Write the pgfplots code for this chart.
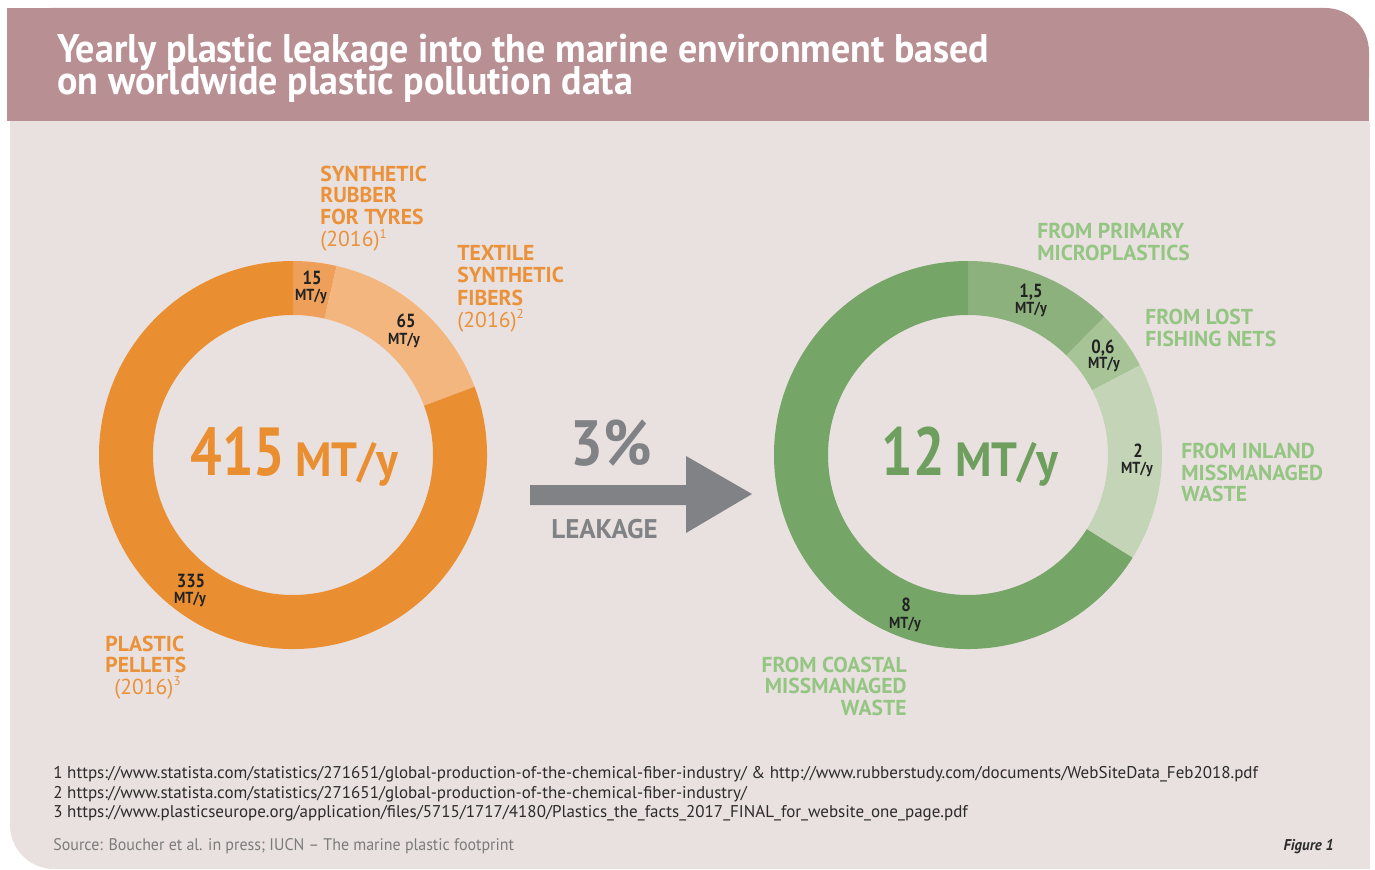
\documentclass[border=0pt]{standalone}
\usepackage{pgfplots}
\pgfplotsset{compat=1.18}
\usepackage{pgfplotstable}
\usepackage{fontspec}
\setmainfont{PT Sans}
\newfontfamily\titlefont{PT Sans}[FakeStretch=0.95]
\newfontfamily\labfont{PT Sans}
\newfontfamily\numfont{PT Sans}[FakeStretch=0.88]
\newfontfamily\bigfont{PT Sans}[FakeStretch=0.82]
\newfontfamily\pctfont{PT Sans}[FakeStretch=0.9]
\newfontfamily\unitfont{PT Sans}[FakeStretch=0.95]
\newfontfamily\notefont{PT Sans}
\newfontfamily\srcfont{PT Sans}[FakeStretch=0.95]
\newcommand\fnsup[1]{\raisebox{0.38em}{\fontsize{6.5}{6.5}\selectfont #1}}

\definecolor{band}{HTML}{B88F93}
\definecolor{body}{HTML}{E9E1E0}
\definecolor{orMain}{HTML}{E98F32}
\definecolor{orRub}{HTML}{EEA05A}
\definecolor{orTex}{HTML}{F4B67F}
\definecolor{orText}{HTML}{EA9139}
\definecolor{grMain}{HTML}{76A568}
\definecolor{grPrim}{HTML}{8DB17D}
\definecolor{grNet}{HTML}{A7C497}
\definecolor{grIn}{HTML}{C4D5B7}
\definecolor{grText}{HTML}{95C583}
\definecolor{grBig}{HTML}{6E9F5E}
\definecolor{arrowgray}{HTML}{808285}
\definecolor{notetext}{HTML}{2B2B2B}
\definecolor{srctext}{HTML}{7B7B7B}
\definecolor{numtext}{HTML}{222222}

\tikzset{
  lab/.style={font=\labfont\bfseries\fontsize{10.8}{10.8}\selectfont},
  labr/.style={font=\labfont\fontsize{10.8}{10.8}\selectfont},
  num/.style={text=numtext,font=\numfont\bfseries\fontsize{9.5}{9.5}\selectfont},
  unit/.style={text=numtext,font=\numfont\bfseries\fontsize{8}{8}\selectfont}}

% Annual plastic volumes (MT/y), clockwise from the top
\pgfplotstableread{
segment value
rubber 15
textile 65
pellets 335
}\leftdata
\pgfplotstableread{
segment value
primary 1.5
nets 0.6
inland 2
coastal 8
}\rightdata

\pgfplotstablegetelem{0}{value}\of\leftdata\let\LvA\pgfplotsretval
\pgfplotstablegetelem{1}{value}\of\leftdata\let\LvB\pgfplotsretval
\pgfplotstablegetelem{2}{value}\of\leftdata\let\LvC\pgfplotsretval
\pgfmathsetmacro\Ltot{\LvA+\LvB+\LvC}
\pgfmathsetmacro\LaA{90}
\pgfmathsetmacro\LaB{90-360*(\LvA/\Ltot)}
\pgfmathsetmacro\LaC{90-360*((\LvA+\LvB)/\Ltot)}
\pgfmathsetmacro\LaD{-270}

\pgfplotstablegetelem{0}{value}\of\rightdata\let\RvA\pgfplotsretval
\pgfplotstablegetelem{1}{value}\of\rightdata\let\RvB\pgfplotsretval
\pgfplotstablegetelem{2}{value}\of\rightdata\let\RvC\pgfplotsretval
\pgfplotstablegetelem{3}{value}\of\rightdata\let\RvD\pgfplotsretval
\pgfmathsetmacro\Rtot{\RvA+\RvB+\RvC+\RvD}
\pgfmathsetmacro\RaA{90}
\pgfmathsetmacro\RaB{90-360*(\RvA/\Rtot)}
\pgfmathsetmacro\RaC{90-360*((\RvA+\RvB)/\Rtot)}
\pgfmathsetmacro\RaD{90-360*((\RvA+\RvB+\RvC)/\Rtot)}
\pgfmathsetmacro\RaE{-270}

\newcommand\Rout{194}
\newcommand\Rin{140}
% ring segment: cx cy a1 a2 colour
\newcommand\ring[5]{%
  \pgfmathsetmacro\oxa{#1+\Rout*cos(#3)}\pgfmathsetmacro\oya{#2+\Rout*sin(#3)}%
  \pgfmathsetmacro\ixb{#1+\Rin*cos(#4)}\pgfmathsetmacro\iyb{#2+\Rin*sin(#4)}%
  \edef\tmp{\noexpand\fill[#5] (axis cs:\oxa,\oya) arc[start angle=#3,end angle=#4,radius=\Rout] -- (axis cs:\ixb,\iyb) arc[start angle=#4,end angle=#3,radius=\Rin] -- cycle;}\tmp}

% text helpers (x, y from top in px)
\newcommand\tl[4][]{\node[anchor=base west,inner sep=0pt,#1] at (axis cs:#2,{869-#3}) {#4};}
\newcommand\tr[4][]{\node[anchor=base east,inner sep=0pt,#1] at (axis cs:#2,{869-#3}) {#4};}
\newcommand\tc[4][]{\node[anchor=base,inner sep=0pt,#1] at (axis cs:#2,{869-#3}) {#4};}

\begin{document}
\begin{tikzpicture}
\begin{axis}[x=0.5pt,y=0.5pt,xmin=0,xmax=1375,ymin=0,ymax=869,
  hide axis,scale only axis,clip=false]
% backgrounds
\fill[white] (axis cs:0,0) rectangle (axis cs:1375,869);
\fill[body,rounded corners=22pt] (axis cs:10,0) rectangle (axis cs:1370,748);
\fill[body] (axis cs:200,0) rectangle (axis cs:1370,748);
\fill[body] (axis cs:10,200) rectangle (axis cs:1370,748);
\fill[band,rounded corners=22pt] (axis cs:7,748) rectangle (axis cs:1369,861);
\fill[band] (axis cs:7,748) rectangle (axis cs:1200,861);
\fill[band] (axis cs:1200,748) rectangle (axis cs:1369,800);

% title
\tl[text=white,font=\titlefont\bfseries\fontsize{20}{20}\selectfont]{57}{63}{Yearly plastic leakage into the marine environment based}
\tl[text=white,font=\titlefont\bfseries\fontsize{20}{20}\selectfont]{57}{95}{on worldwide plastic pollution data}

% left donut
\ring{293}{414}{\LaA}{\LaB}{orRub}
\ring{293}{414}{\LaB}{\LaC}{orTex}
\ring{293}{414}{\LaC}{\LaD}{orMain}
% right donut
\ring{968}{414}{\RaA}{\RaB}{grPrim}
\ring{968}{414}{\RaB}{\RaC}{grNet}
\ring{968}{414}{\RaC}{\RaD}{grIn}
\ring{968}{414}{\RaD}{\RaE}{grMain}

% centre totals
\tl[text=orMain,font=\bigfont\bfseries\fontsize{34}{34}\selectfont]{190}{475}{415}
\tl[text=orMain,font=\unitfont\bfseries\fontsize{24}{24}\selectfont]{295}{476}{MT/y}
\tl[text=grBig,font=\bigfont\bfseries\fontsize{34}{34}\selectfont]{881}{475}{12}
\tl[text=grBig,font=\unitfont\bfseries\fontsize{24}{24}\selectfont]{955}{476}{MT/y}

% segment values
\tc[num]{312}{285}{15}
\tc[unit]{311}{301}{MT/y}
\tc[num]{406}{327}{65}
\tc[unit]{404}{345}{MT/y}
\tc[num]{191}{587}{335}
\tc[unit]{190}{603}{MT/y}
\tc[num]{1031}{297}{1,5}
\tc[unit]{1031}{313}{MT/y}
\tc[num]{1103}{353}{0,6}
\tc[unit]{1104}{368}{MT/y}
\tc[num]{1138}{457}{2}
\tc[unit]{1137}{473}{MT/y}
\tc[num]{906}{611}{8}
\tc[unit]{905}{628}{MT/y}

% orange category labels
\tl[text=orText,lab]{320}{182}{SYNTHETIC}
\tl[text=orText,lab]{320}{203}{RUBBER}
\tl[text=orText,lab]{320}{225}{FOR TYRES}
\tl[text=orText,labr]{320}{247}{(2016)\fnsup{1}}
\tl[text=orText,lab]{457}{261}{TEXTILE}
\tl[text=orText,lab]{457}{283}{SYNTHETIC}
\tl[text=orText,lab]{457}{305}{FIBERS}
\tl[text=orText,labr]{457}{327}{(2016)\fnsup{2}}
\tl[text=orText,lab]{105}{651}{PLASTIC}
\tl[text=orText,lab]{105}{672}{PELLETS}
\tr[text=orText,labr]{181}{694}{(2016)\fnsup{3}}

% green category labels
\tl[text=grText,lab]{1037}{239}{FROM PRIMARY}
\tl[text=grText,lab]{1037}{261}{MICROPLASTICS}
\tl[text=grText,lab]{1145}{324}{FROM LOST}
\tl[text=grText,lab]{1145}{346}{FISHING NETS}
\tl[text=grText,lab]{1181}{458}{FROM INLAND}
\tl[text=grText,lab]{1181}{480}{MISSMANAGED}
\tl[text=grText,lab]{1181}{501}{WASTE}
\tr[text=grText,lab]{907}{672}{FROM COASTAL}
\tr[text=grText,lab]{907}{693}{MISSMANAGED}
\tr[text=grText,lab]{907}{715}{WASTE}

% leakage arrow
\fill[arrowgray] (axis cs:530,{869-485}) -- (axis cs:686,{869-485}) -- (axis cs:686,{869-456})
  -- (axis cs:752,{869-494}) -- (axis cs:686,{869-533}) -- (axis cs:686,{869-505})
  -- (axis cs:530,{869-505}) -- cycle;
\tl[text=arrowgray,font=\pctfont\bfseries\fontsize{32}{32}\selectfont]{570}{465}{3\%}
\tl[text=arrowgray,font=\labfont\bfseries\fontsize{13.5}{13.5}\selectfont]{551}{538}{LEAKAGE}

% footnotes
\tl[text=notetext,font=\notefont\fontsize{8.5}{8.5}\selectfont]{53}{778}{1 https://www.statista.com/statistics/271651/global-production-of-the-chemical-fiber-industry/ \& http://www.rubberstudy.com/documents/WebSiteData\_Feb2018.pdf}
\tl[text=notetext,font=\notefont\fontsize{8.5}{8.5}\selectfont]{53}{798}{2 https://www.statista.com/statistics/271651/global-production-of-the-chemical-fiber-industry/}
\tl[text=notetext,font=\notefont\fontsize{8.5}{8.5}\selectfont]{53}{817}{3 https://www.plasticseurope.org/application/files/5715/1717/4180/Plastics\_the\_facts\_2017\_FINAL\_for\_website\_one\_page.pdf}
\tl[text=srctext,font=\srcfont\fontsize{8.4}{8.4}\selectfont]{53}{850}{Source: Boucher et al. in press; IUCN – The marine plastic footprint}
\tr[text=notetext,font=\srcfont\bfseries\itshape\fontsize{7.8}{7.8}\selectfont]{1334}{850}{Figure 1}
\end{axis}
\end{tikzpicture}
\end{document}
